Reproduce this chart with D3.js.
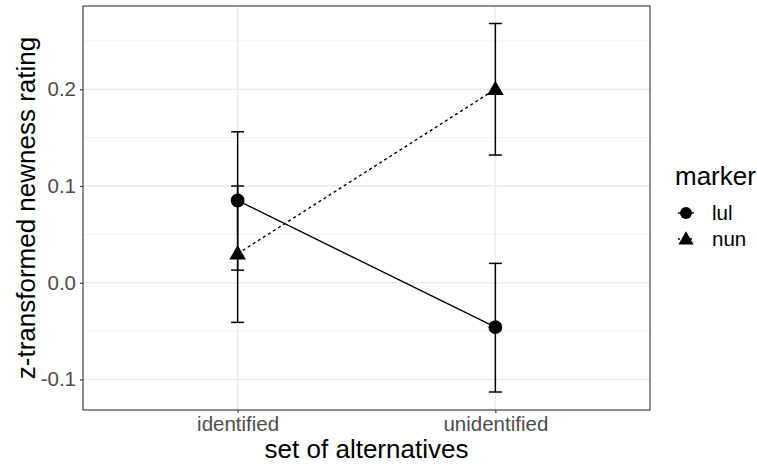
<!DOCTYPE html>
<html>
<head>
<meta charset="utf-8">
<script src="https://cdn.jsdelivr.net/npm/d3@7"></script>
<style>
  body { margin: 0; background: #fff; }
  svg { font-family: "Liberation Sans", Arial, Helvetica, sans-serif; }
</style>
</head>
<body>
<div class="chart"></div>
<script>
const categories = ["identified", "unidentified"];
const markers = ["lul", "nun"];
const means = {
    lul: [0.085, -0.046],
    nun: [0.030, 0.200]
};
const upper = {
    lul: [0.156, 0.020],
    nun: [0.100, 0.268]
};
const lower = {
    lul: [-0.041, -0.113],
    nun: [0.013, 0.132]
};
const yTicks = [-0.1, 0.0, 0.1, 0.2];
const yMinor = [-0.05, 0.05, 0.15, 0.25];

const width = 757;
const height = 465;
const panel = { left: 83, right: 650, top: 6, bottom: 410 };

const svg = d3.select(".chart").append("svg")
    .attr("width", width)
    .attr("height", height);

// discrete x scale with ggplot's 0.6 expansion
const x = d3.scaleLinear()
    .domain([0.4, 2.6])
    .range([panel.left, panel.right]);
const xPos = (c) => x(categories.indexOf(c) + 1);

const y = d3.scaleLinear()
    .domain([-0.1316, 0.2861])
    .range([panel.bottom, panel.top]);

// grid
const grid = svg.append("g").attr("class", "grid");
grid.selectAll(".minor")
    .data(yMinor)
    .enter()
    .append("line")
    .attr("x1", panel.left).attr("x2", panel.right)
    .attr("y1", (d) => y(d)).attr("y2", (d) => y(d))
    .style("stroke", "#f2f2f2")
    .style("stroke-width", 1);
grid.selectAll(".major")
    .data(yTicks)
    .enter()
    .append("line")
    .attr("x1", panel.left).attr("x2", panel.right)
    .attr("y1", (d) => y(d)).attr("y2", (d) => y(d))
    .style("stroke", "#ebebeb")
    .style("stroke-width", 1.4);
grid.selectAll(".vmajor")
    .data(categories)
    .enter()
    .append("line")
    .attr("x1", xPos).attr("x2", xPos)
    .attr("y1", panel.top).attr("y2", panel.bottom)
    .style("stroke", "#ebebeb")
    .style("stroke-width", 1.4);

// axes
const yAxis = d3.axisLeft(y).tickValues(yTicks).tickSize(3).tickPadding(4)
    .tickFormat((d) => d3.format(".1f")(d).replace("−", "-"));
svg.append("g")
    .attr("class", "y-axis")
    .attr("transform", `translate(${panel.left},0)`)
    .call(yAxis);

const xAxis = d3.axisBottom(d3.scaleOrdinal().domain(categories).range(categories.map(xPos)))
    .tickSize(3).tickPadding(3);
svg.append("g")
    .attr("class", "x-axis")
    .attr("transform", `translate(0,${panel.bottom})`)
    .call(xAxis);

svg.selectAll(".y-axis .domain, .x-axis .domain").remove();
svg.selectAll(".tick line").style("stroke", "#333").style("stroke-width", 1.1);
svg.selectAll(".tick text")
    .style("fill", "#4d4d4d")
    .style("font-size", "20.5px");

// lines
const line = d3.line()
    .x((d) => xPos(d.cat))
    .y((d) => y(d.v));

markers.forEach((m) => {
    const pts = categories.map((c, i) => ({ cat: c, v: means[m][i] }));
    svg.append("path")
        .attr("d", line(pts))
        .style("fill", "none")
        .style("stroke", "#000")
        .style("stroke-width", 1.4)
        .style("stroke-dasharray", m === "nun" ? "3,3" : null);
});

// error bars
const capHalf = 6.5;
markers.forEach((m) => {
    const g = svg.append("g").attr("class", "errorbar-" + m);
    categories.forEach((c, i) => {
        const cx = xPos(c);
        g.append("line")
            .attr("x1", cx).attr("x2", cx)
            .attr("y1", y(lower[m][i])).attr("y2", y(upper[m][i]));
        [lower[m][i], upper[m][i]].forEach((v) => {
            g.append("line")
                .attr("x1", cx - capHalf).attr("x2", cx + capHalf)
                .attr("y1", y(v)).attr("y2", y(v));
        });
    });
    g.selectAll("line").style("stroke", "#000").style("stroke-width", 1.5);
});

// points
const symbols = { lul: d3.symbolCircle, nun: d3.symbolTriangle };
markers.forEach((m) => {
    svg.selectAll(".pt-" + m)
        .data(categories)
        .enter()
        .append("path")
        .attr("d", d3.symbol().type(symbols[m]).size(m === "lul" ? 150 : 120))
        .attr("transform", (d, i) => `translate(${xPos(d)},${y(means[m][i]) + (m === "nun" ? 1 : 0)})`)
        .style("fill", "#000");
});

// panel border
svg.append("rect")
    .attr("x", panel.left).attr("y", panel.top)
    .attr("width", panel.right - panel.left)
    .attr("height", panel.bottom - panel.top)
    .style("fill", "none")
    .style("stroke", "#333")
    .style("stroke-width", 1.1);

// axis titles
svg.append("text")
    .attr("x", (panel.left + panel.right) / 2)
    .attr("y", 458)
    .attr("text-anchor", "middle")
    .style("font-size", "26px")
    .text("set of alternatives");

svg.append("text")
    .attr("transform", `translate(35,${(panel.top + panel.bottom) / 2}) rotate(-90)`)
    .attr("text-anchor", "middle")
    .style("font-size", "26px")
    .text("z-transformed newness rating");

// legend
const legend = svg.append("g").attr("transform", "translate(668,0)");
legend.append("text")
    .attr("x", 7).attr("y", 185)
    .style("font-size", "26px")
    .text("marker");

const key = legend.selectAll(".key")
    .data(markers)
    .enter()
    .append("g")
    .attr("class", "key")
    .attr("transform", (d, i) => `translate(0,${213 + i * 26})`);

key.append("line")
    .attr("x1", 10).attr("x2", 26)
    .attr("y1", 0).attr("y2", 0)
    .style("stroke", "#000")
    .style("stroke-width", 1.4)
    .style("stroke-dasharray", (d) => d === "nun" ? "2,2" : null);
key.append("path")
    .attr("d", (d) => d3.symbol().type(symbols[d]).size(d === "lul" ? 110 : 100)())
    .attr("transform", (d) => `translate(18,${d === "nun" ? 1 : 0})`)
    .style("fill", "#000");
key.append("text")
    .attr("x", 44)
    .attr("y", 0)
    .attr("dy", ".35em") //vertical align middle
    .style("font-size", "20.5px")
    .text((d) => d);
</script>
</body>
</html>
